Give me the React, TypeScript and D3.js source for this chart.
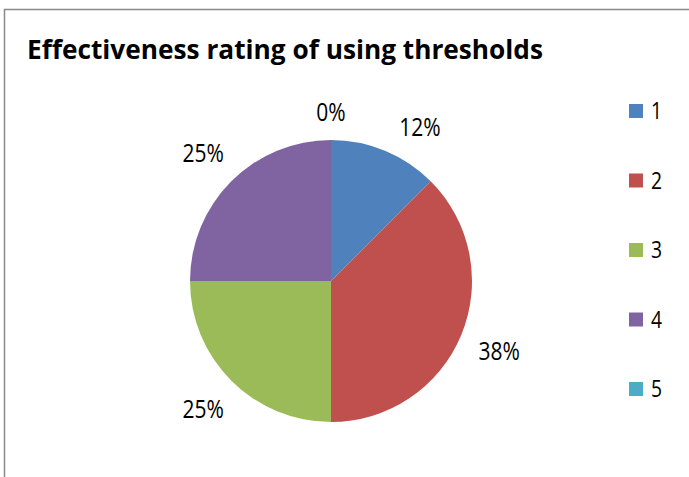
import React, { useEffect, useRef } from "react";
import * as d3 from "d3";

const title = "Effectiveness rating of using thresholds";
const categories = ["1", "2", "3", "4", "5"];
const values = [12.5, 37.5, 25, 25, 0];
const valueLabels = ["12%", "38%", "25%", "25%", "0%"];
const colors = ["#4F81BD", "#C0504D", "#9BBB59", "#8064A2", "#4BACC6"];

const W = 689;
const H = 477;
const FONT = "'Open Sans', 'DejaVu Sans', sans-serif";
const CONDENSE = 0.84;

export default function App() {
  const ref = useRef<SVGSVGElement>(null);

  useEffect(() => {
    const svg = d3.select(ref.current);
    svg.selectAll("*").remove();

    // background + border
    svg.append("rect").attr("x", 0).attr("y", 0).attr("width", W).attr("height", H).attr("fill", "#fff");
    svg
      .append("rect")
      .attr("x", 4.5)
      .attr("y", 9.5)
      .attr("width", W + 20)
      .attr("height", H + 20)
      .attr("fill", "none")
      .attr("stroke", "#898989")
      .attr("stroke-width", 1.5);

    const condense = (sel: d3.Selection<SVGTextElement, any, any, any>) => {
      sel.each(function () {
        const el = this as SVGTextElement;
        const len = el.getComputedTextLength();
        el.setAttribute("textLength", String(len * CONDENSE));
        el.setAttribute("lengthAdjust", "spacingAndGlyphs");
      });
    };

    // title
    const t = svg
      .append("text")
      .attr("x", 27)
      .attr("y", 59)
      .attr("font-family", FONT)
      .attr("font-weight", "bold")
      .attr("font-size", 27)
      .attr("fill", "#000")
      .text(title);
    t.each(function () {
      const el = this as SVGTextElement;
      el.setAttribute("textLength", "516");
      el.setAttribute("lengthAdjust", "spacingAndGlyphs");
    });

    // pie
    const cx = 331;
    const cy = 281;
    const r = 141;
    const pie = d3.pie<number>().sort(null).value((d) => d);
    const arcs = pie(values);
    const arc = d3.arc<d3.PieArcDatum<number>>().innerRadius(0).outerRadius(r);
    const g = svg.append("g").attr("transform", `translate(${cx},${cy})`);
    g.selectAll("path")
      .data(arcs)
      .join("path")
      .attr("d", arc as any)
      .attr("fill", (_d, i) => colors[i]);

    // labels: angle at slice middle, with min angular separation
    const labelAngles = arcs.map((a) => (a.startAngle + a.endAngle) / 2);
    // zero-size slice at the end sits at angle 2π ≡ 0; enforce separation
    const order = labelAngles
      .map((a, i) => ({ a: a % (2 * Math.PI), i }))
      .sort((p, q) => p.a - q.a);
    const minSep = (30 * Math.PI) / 180;
    for (let k = 1; k < order.length; k++) {
      if (order[k].a - order[k - 1].a < minSep) order[k].a = order[k - 1].a + minSep;
    }
    order.forEach((o) => (labelAngles[o.i] = o.a));

    const fs = 25;
    const lg = svg.append("g");
    const labels = lg
      .selectAll("text")
      .data(arcs)
      .join("text")
      .attr("font-family", FONT)
      .attr("font-size", fs)
      .attr("fill", "#000")
      .attr("text-anchor", "middle")
      .text((_d, i) => valueLabels[i]);
    condense(labels as any);
    labels.each(function (_d, i) {
      const el = this as SVGTextElement;
      const w = parseFloat(el.getAttribute("textLength") || "40");
      const h = 20;
      const a = labelAngles[i];
      const s = Math.sin(a);
      const c = Math.cos(a);
      const dist = 159 + Math.abs(s) * (w / 2) + Math.abs(c) * (h / 2);
      const x = cx + dist * s;
      const y = cy - dist * c;
      el.setAttribute("x", String(x));
      el.setAttribute("y", String(y + 9));
    });

    // legend
    const legendY = d3.scalePoint<string>().domain(categories).range([111, 389]);
    const leg = svg
      .append("g")
      .selectAll("g")
      .data(categories)
      .join("g")
      .attr("transform", (d) => `translate(629,${legendY(d)})`);
    leg
      .append("rect")
      .attr("x", 0)
      .attr("y", -7)
      .attr("width", 14)
      .attr("height", 14)
      .attr("fill", (_d, i) => colors[i]);
    const lt = leg
      .append("text")
      .attr("x", 22)
      .attr("y", 8)
      .attr("font-family", FONT)
      .attr("font-size", 23)
      .attr("fill", "#000")
      .text((d) => d);
    condense(lt as any);
  }, []);

  return (
    <svg
      ref={ref}
      width={W}
      height={H}
      style={{ position: "absolute", left: 0, top: 0, display: "block" }}
    />
  );
}
